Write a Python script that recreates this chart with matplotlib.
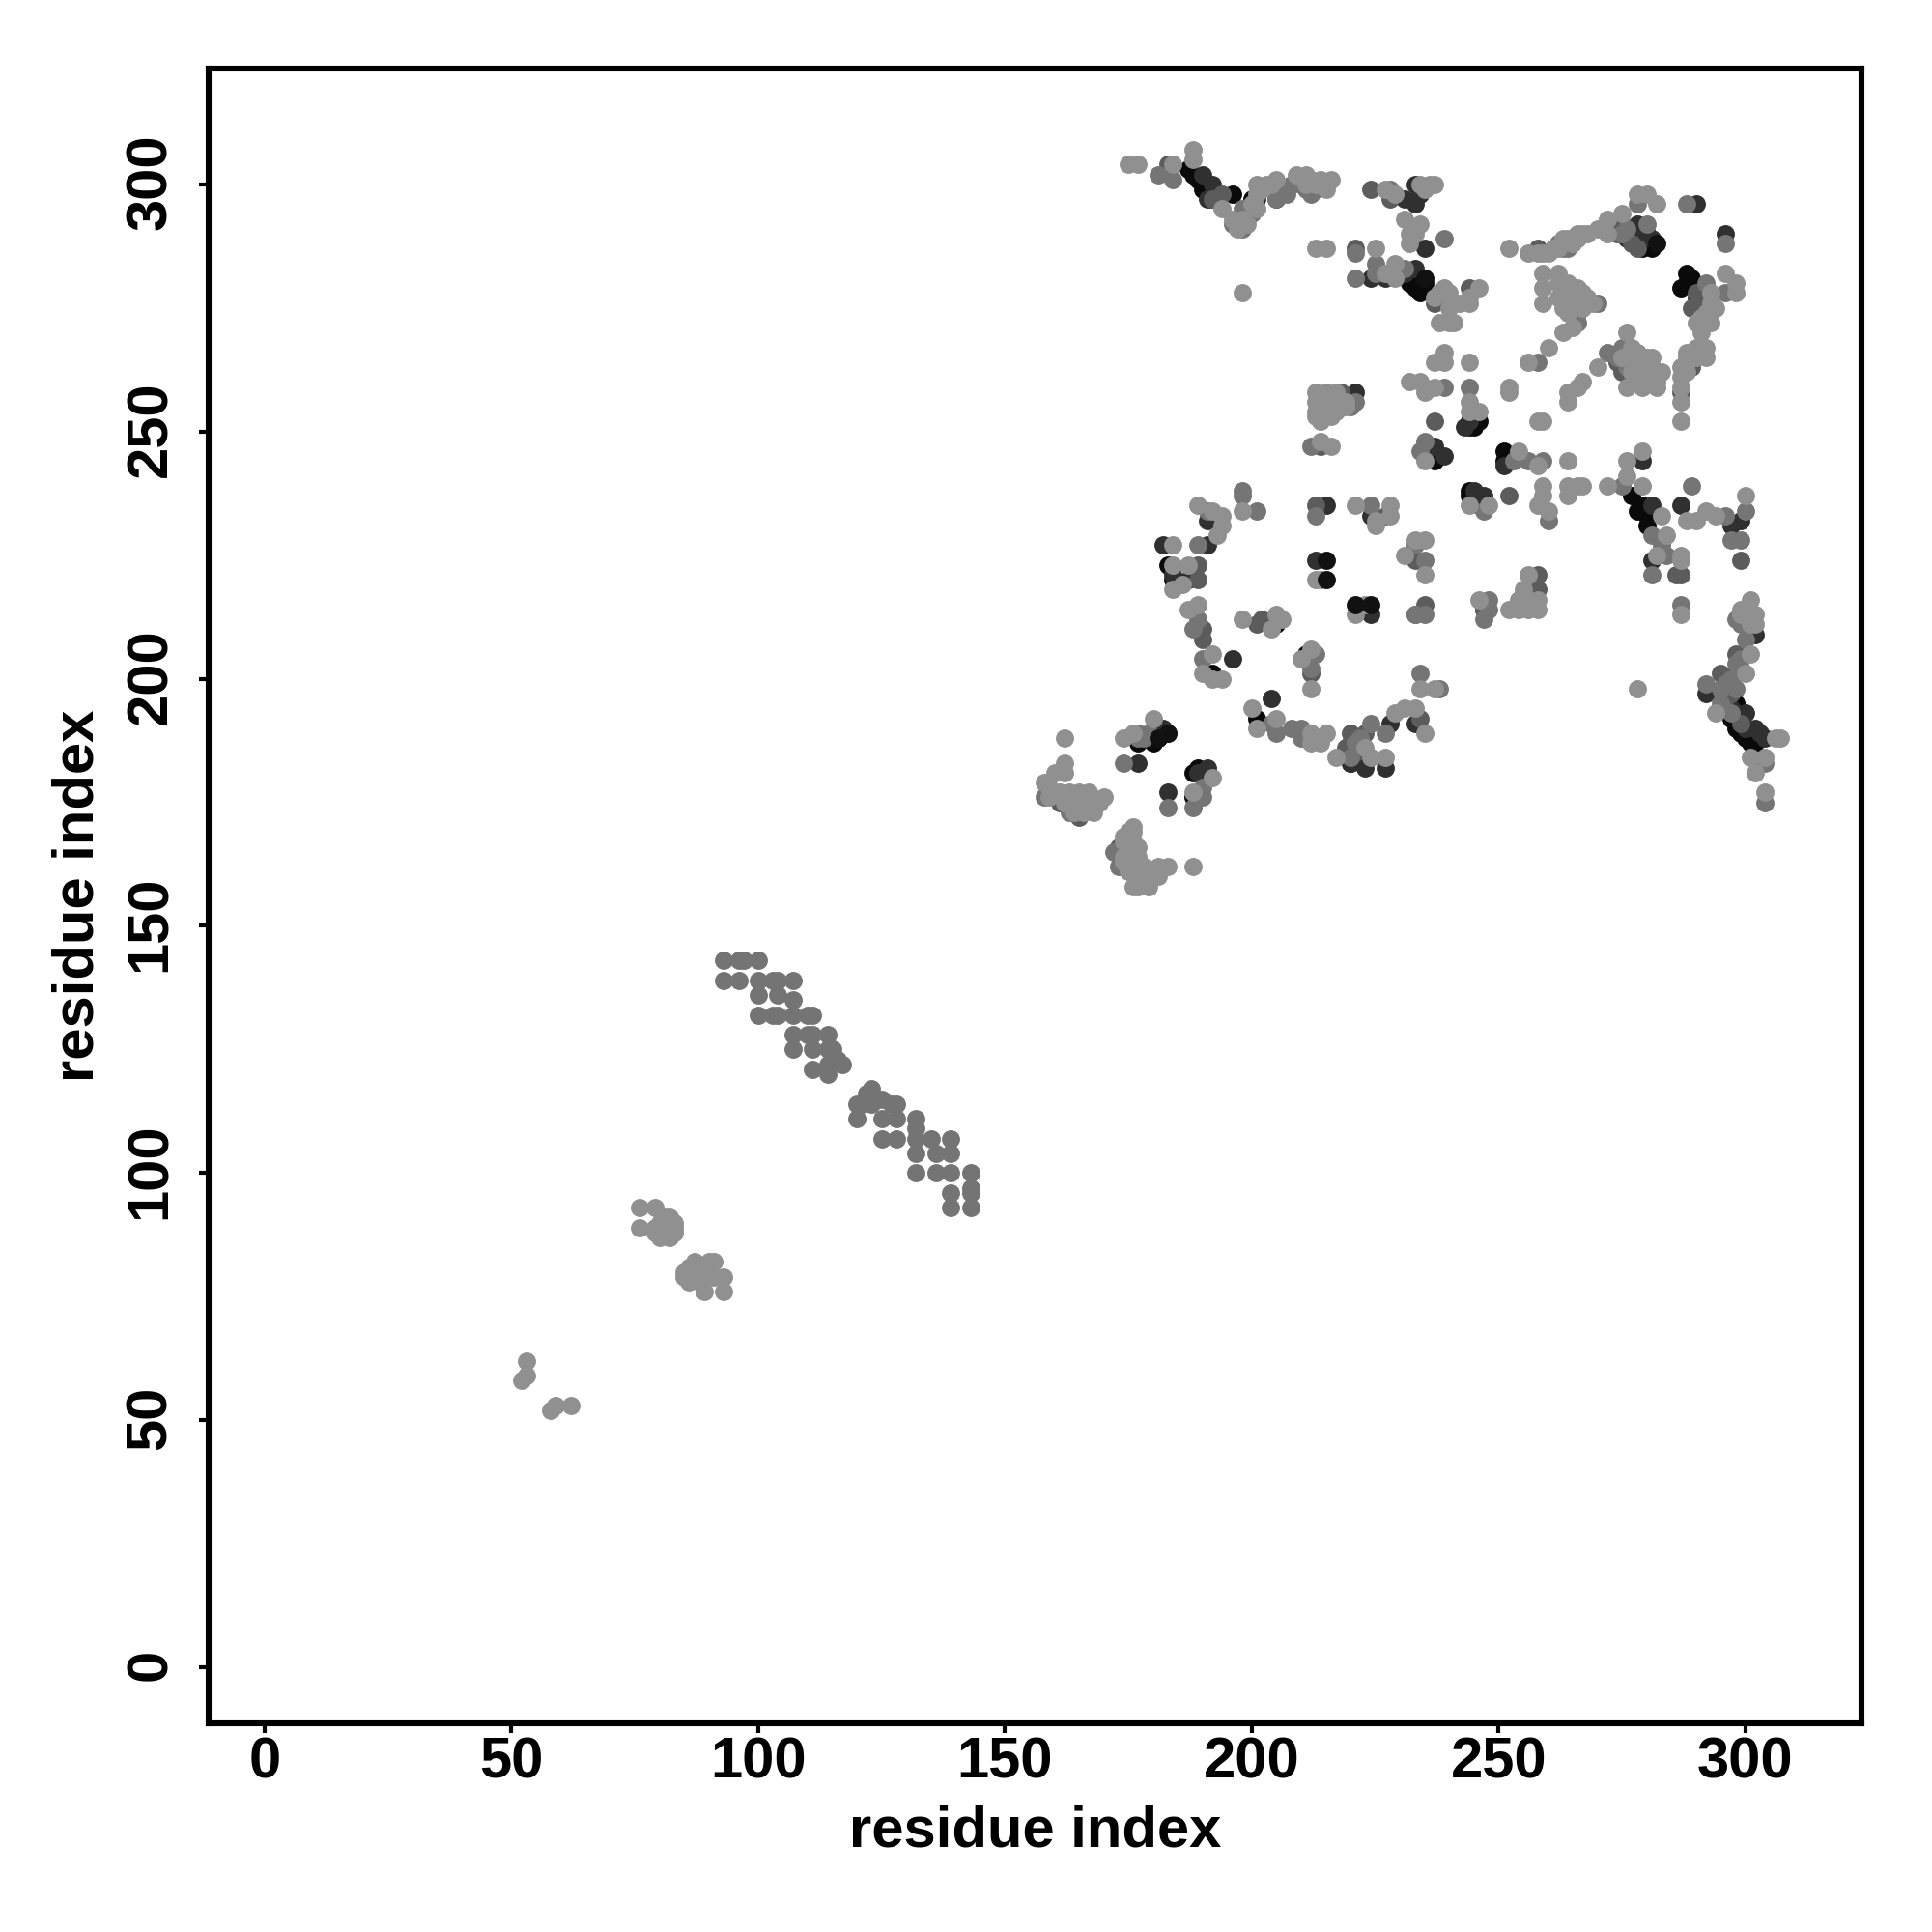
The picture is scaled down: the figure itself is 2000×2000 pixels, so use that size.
import matplotlib
matplotlib.use('Agg')
from matplotlib import pyplot as plt
from matplotlib.transforms import ScaledTranslation

plt.rcParams['font.family'] = ['Liberation Sans', 'DejaVu Sans']

# contact pairs, one list per grey level, darkest first
black_pts = [(187, 303), (188, 302), (189, 301), (190, 299), (191, 298), (192, 297), (196, 298), (200, 297),
             (232, 280), (234, 278), (233, 279), (277, 291), (278, 290), (279, 287), (280, 288), (281, 287),
             (288, 282), (287, 279), (289, 281), (288, 280), (290, 279), (244, 251), (246, 252), (245, 251),
             (251, 246), (251, 244), (237, 244), (238, 245), (277, 237), (278, 234), (279, 235), (280, 233),
             (280, 231), (183, 223), (192, 201), (205, 211), (211, 205), (201, 192), (177, 187), (181, 188),
             (180, 187), (188, 181), (189, 182), (188, 176), (220, 183), (298, 201), (298, 195), (297, 192),
             (298, 190), (299, 189), (300, 188), (301, 187), (302, 187), (184, 220), (223, 183), (244, 238),
             (244, 237), (299, 190), (300, 189), (233, 281), (235, 280)]
dark_pts = [(190, 302), (192, 300), (191, 297), (205, 297), (201, 297), (224, 281), (227, 281), (231, 282),
            (233, 283), (235, 287), (231, 297), (233, 296), (233, 300), (234, 298), (278, 289), (290, 296),
            (296, 290), (290, 277), (291, 275), (244, 252), (243, 251), (237, 247), (239, 245), (251, 243),
            (279, 244), (281, 235), (287, 235), (299, 232), (297, 231), (281, 224), (247, 214), (182, 227),
            (191, 227), (191, 232), (184, 221), (187, 220), (196, 204), (204, 196), (213, 224), (224, 213),
            (182, 190), (183, 189), (177, 183), (191, 182), (189, 181), (183, 177), (292, 197), (299, 192),
            (302, 190), (304, 188), (228, 191), (233, 191), (227, 182), (223, 182), (220, 183), (302, 209),
            (247, 237), (224, 233), (215, 235), (297, 194), (298, 193), (300, 190), (303, 189), (300, 193),
            (276, 289), (278, 292), (279, 291), (280, 290), (281, 289), (245, 238), (246, 235), (221, 258)]
deep_pts = [(183, 304), (192, 297), (194, 298), (221, 287), (224, 299), (228, 297), (258, 287), (274, 290),
            (265, 275), (274, 264), (289, 275), (287, 258), (289, 263), (258, 221), (258, 218), (235, 215),
            (233, 224), (299, 224), (190, 210), (190, 208), (189, 220), (189, 223), (202, 212), (201, 211),
            (212, 201), (220, 189), (220, 187), (223, 189), (298, 205), (295, 201), (234, 192), (165, 172),
            (161, 175), (174, 162), (173, 166), (286, 221), (287, 221), (247, 214), (233, 213), (237, 252),
            (252, 237), (213, 235), (227, 233), (214, 247), (218, 258), (264, 275), (266, 274), (275, 262),
            (275, 292), (277, 288), (278, 287), (219, 186), (221, 185), (299, 191), (296, 196), (297, 197),
            (237, 276), (244, 279), (290, 278), (291, 277), (292, 276)]
mid_pts = [(181, 302), (184, 301), (198, 295), (196, 292), (198, 291), (208, 300), (210, 300), (212, 298),
           (205, 297), (221, 286), (225, 284), (225, 282), (221, 281), (228, 299), (231, 283), (239, 289),
           (276, 291), (275, 290), (280, 292), (278, 296), (288, 296), (296, 288), (292, 280), (296, 278),
           (270, 276), (266, 272), (272, 266), (275, 267), (276, 263), (258, 264), (239, 259), (244, 259),
           (262, 288), (263, 287), (234, 246), (235, 248), (253, 244), (256, 244), (259, 244), (275, 239),
           (289, 239), (281, 229), (296, 233), (300, 234), (297, 228), (299, 228), (283, 227), (284, 225),
           (281, 221), (287, 215), (248, 216), (248, 214), (247, 212), (233, 213), (235, 213), (235, 224),
           (233, 227), (298, 212), (300, 208), (292, 199), (295, 198), (298, 198), (295, 195), (304, 183),
           (304, 175), (198, 238), (198, 237), (201, 234), (191, 234), (189, 227), (188, 210), (189, 212),
           (190, 204), (213, 205), (212, 202), (204, 191), (205, 189), (208, 190), (210, 190), (210, 188),
           (220, 184), (224, 191), (227, 189), (234, 201), (238, 198), (158, 176), (163, 173), (165, 174),
           (166, 176), (177, 189), (177, 188), (179, 189), (174, 183), (190, 178), (190, 176), (188, 174),
           (183, 174), (172, 165), (173, 162), (213, 233), (224, 235), (247, 234), (260, 232), (212, 247),
           (221, 256), (220, 255), (264, 287), (274, 265), (199, 295), (200, 294), (206, 299), (207, 298),
           (211, 299), (213, 299), (300, 214), (300, 212), (299, 211), (299, 204), (298, 203), (299, 202),
           (297, 200), (296, 199), (297, 193), (178, 188), (222, 188), (221, 187)]
strand_pts = [(93, 143), (96, 143), (97, 143), (100, 143), (93, 139), (96, 139), (100, 139), (103, 139),
              (104, 139), (107, 139), (100, 136), (104, 136), (107, 135), (100, 132), (103, 132), (104, 132),
              (107, 132), (110, 132), (111, 132), (107, 128), (110, 128), (111, 128), (114, 128), (107, 125),
              (111, 125), (114, 125), (115, 125), (116, 123), (117, 122), (114, 122), (111, 121), (114, 120),
              (123, 117), (122, 116), (120, 114), (121, 114), (120, 111), (123, 114), (125, 115), (127, 114),
              (128, 114), (125, 111), (128, 111), (125, 107), (128, 107), (132, 111), (132, 109), (132, 107),
              (132, 104), (132, 100), (135, 107), (136, 104), (136, 100), (139, 107), (139, 104), (139, 100),
              (139, 96), (139, 93), (143, 100), (143, 97), (143, 96), (143, 93)]
light_pts = [(53, 62), (53, 59), (52, 58), (58, 52), (59, 53), (62, 53),
             (76, 93), (79, 93), (76, 89), (79, 89), (80, 90), (81, 91), (82, 91), (83, 90), (83, 89), (83, 88),
             (82, 87), (80, 87), (79, 88), (81, 88), (81, 89),
             (85, 79), (85, 80), (86, 81), (87, 82), (90, 82), (91, 82), (86, 78), (88, 78), (89, 76), (89, 79),
             (90, 80), (91, 79), (93, 79), (93, 76), (87, 80), (88, 81),
             (175, 304), (177, 304), (184, 304), (188, 307), (188, 305), (194, 295), (199, 292), (201, 300),
             (201, 295), (205, 301), (209, 302), (211, 302), (216, 301), (214, 300), (213, 287), (215, 287),
             (198, 278), (225, 287), (227, 282), (229, 281), (229, 284), (227, 299), (237, 300), (231, 293),
             (234, 292), (232, 290), (232, 288), (252, 287), (256, 286), (260, 286), (266, 290), (267, 290),
             (265, 288), (270, 291), (272, 293), (272, 290), (275, 294), (278, 298), (280, 298), (282, 296),
             (259, 282), (262, 282), (259, 276), (259, 279), (264, 280), (265, 278), (268, 276), (263, 270),
             (265, 271), (260, 267), (256, 264), (276, 270), (277, 267), (280, 265), (278, 265), (282, 261),
             (276, 259), (279, 259), (282, 259), (270, 263), (293, 278), (294, 275), (296, 282), (298, 280),
             (298, 278), (290, 272), (293, 272), (291, 270), (291, 266), (291, 267), (288, 266), (287, 263),
             (287, 261), (287, 256), (287, 252), (244, 264), (239, 266), (237, 264), (239, 264), (232, 260),
             (235, 258), (234, 260), (237, 259), (244, 256), (244, 254), (246, 254), (252, 259), (252, 258),
             (264, 256), (264, 258), (267, 260), (266, 259), (258, 252), (259, 252), (235, 244), (254, 246),
             (258, 243), (264, 244), (279, 246), (276, 244), (272, 239), (276, 241), (279, 239), (283, 233),
             (284, 229), (282, 225), (287, 225), (287, 224), (288, 232), (290, 232), (292, 234), (294, 233),
             (300, 237), (287, 213), (256, 221), (255, 218), (254, 216), (252, 214), (254, 214), (256, 214),
             (258, 214), (256, 216), (258, 216), (246, 216), (235, 221), (231, 225), (235, 228), (233, 228),
             (301, 216), (299, 214), (302, 211), (301, 211), (301, 205), (300, 201), (294, 193), (306, 188),
             (307, 188), (301, 184), (304, 184), (302, 181), (304, 177), (278, 198), (198, 234), (189, 235),
             (192, 234), (194, 233), (194, 231), (193, 229), (184, 227), (184, 223), (187, 223), (184, 218),
             (186, 219), (189, 215), (187, 214), (192, 205), (190, 201), (194, 200), (192, 200), (198, 212),
             (204, 210), (205, 213), (206, 212), (212, 206), (210, 204), (212, 198), (213, 220), (214, 220),
             (221, 213), (223, 215), (234, 198), (237, 198), (200, 194), (201, 190), (205, 192), (212, 189),
             (215, 189), (214, 187), (212, 187), (217, 184), (223, 186), (224, 184), (227, 184), (229, 193),
             (233, 194), (231, 194), (235, 189), (162, 188), (162, 183), (160, 181), (162, 181), (158, 179),
             (161, 177), (163, 177), (167, 176), (170, 176), (168, 175), (174, 188), (176, 189), (180, 192),
             (192, 180), (188, 177), (188, 162), (176, 170), (174, 168), (176, 167), (176, 163), (176, 158),
             (178, 162), (179, 158), (181, 162), (183, 162), (181, 160), (178, 159),
             # dense patches
             (213, 258), (215, 258), (217, 258), (213, 256), (215, 256), (217, 256), (219, 256), (213, 254),
             (215, 254), (217, 254), (219, 255), (214, 252), (213, 253), (216, 253), (214, 248), (216, 247),
             (221, 235), (225, 232), (228, 235), (228, 233), (225, 231), (237, 277), (238, 278), (239, 279),
             (240, 278), (240, 275), (240, 272), (238, 272), (241, 272), (242, 276), (244, 276), (244, 277),
             (246, 279), (248, 235), (244, 235), (259, 239), (259, 237), (258, 235), (260, 234), (264, 239),
             (266, 239), (264, 237), (267, 239), (262, 280), (263, 279), (264, 278), (265, 277), (266, 279),
             (267, 278), (263, 277), (264, 276), (266, 276), (267, 275), (268, 277), (269, 276), (262, 277),
             (263, 275), (264, 274), (277, 265), (278, 266), (279, 263), (280, 262), (281, 263), (282, 260),
             (280, 260), (283, 262), (276, 265), (275, 265), (277, 262), (278, 261), (279, 264), (281, 265),
             (258, 286), (259, 286), (261, 287), (262, 287), (263, 289), (264, 289), (266, 289), (268, 290),
             (292, 274), (291, 273), (293, 276), (288, 264), (288, 262), (287, 259), (290, 267), (289, 266),
             (288, 265), (290, 265), (292, 267), (292, 265), (196, 293), (197, 291), (198, 293), (200, 296),
             (201, 298), (202, 299), (203, 300), (204, 300), (211, 300), (212, 301), (213, 300), (214, 301),
             (215, 300), (215, 299), (234, 300), (235, 299), (236, 300), (229, 298), (233, 290), (159, 178),
             (159, 176), (160, 177), (162, 175), (163, 175), (164, 176), (165, 177), (166, 175), (167, 174),
             (168, 173), (166, 173), (164, 173), (169, 175), (167, 177), (165, 175), (175, 169), (174, 167),
             (175, 165), (174, 164), (176, 161), (177, 160), (178, 160), (177, 158), (175, 161), (174, 163),
             (175, 166), (177, 164), (177, 163), (177, 166), (176, 169), (302, 213), (299, 213)]
# these sit over the lighter dots in the reference
top_black_pts = [(215, 224), (215, 220), (221, 215), (224, 215), (235, 281), (282, 288), (181, 188), (183, 189)]

layers = [(black_pts, '#0a0a0a'), (dark_pts, '#303030'), (deep_pts, '#5c5c5c'), (mid_pts, '#757575'),
          (strand_pts, '#747474'), (light_pts, '#909090'), (top_black_pts, '#111111')]
x_ticks = [0, 50, 100, 150, 200, 250, 300]
y_ticks = [0, 50, 100, 150, 200, 250, 300]

fig = plt.figure(figsize=(20, 20), dpi=100)
ax = fig.add_axes([216 / 2000, 1 - 1784 / 2000, (1927 - 216) / 2000, (1784 - 71) / 2000])

for pts, colour in layers:
    ax.scatter([p[0] for p in pts], [p[1] for p in pts], s=185, c=colour, linewidths=0)

ax.set_xlim(-11.35, 323.5)
ax.set_ylim(-11.3, 323.4)
ax.set_xticks(x_ticks)
ax.set_yticks(y_ticks)
ax.tick_params(axis='x', length=7, width=3, labelsize=43, pad=3)
ax.tick_params(axis='y', length=7, width=3, labelsize=43, pad=16)
for label in ax.get_xticklabels() + ax.get_yticklabels():
    label.set_fontweight('bold')
shift = ScaledTranslation(0, 2.5 / 100, fig.dpi_scale_trans)
for label in ax.get_yticklabels():
    label.set_rotation(90)
    label.set_verticalalignment('center')
    label.set_transform(label.get_transform() + shift)
for spine in ax.spines.values():
    spine.set_linewidth(4.4)

ax.set_xlabel('residue index', fontsize=43, fontweight='bold', labelpad=11)
ax.set_ylabel('residue index', fontsize=43, fontweight='bold', labelpad=15)

plt.savefig('out.png', dpi=100)
